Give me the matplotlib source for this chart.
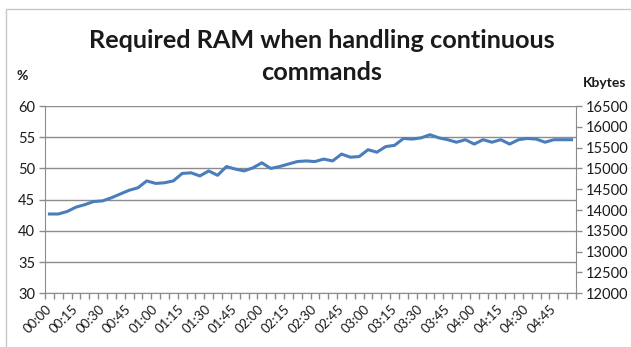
import matplotlib.pyplot as plt
from matplotlib.patches import Rectangle
from matplotlib.ticker import MultipleLocator

# time of day, every 5 minutes from 00:00 to 04:55
times = [f"{m // 60:02d}:{m % 60:02d}" for m in range(0, 300, 5)]

# required RAM in percent
ram_pct = [
    42.7, 42.7, 43.1, 43.8, 44.2, 44.7, 44.8, 45.3, 45.9, 46.5,
    46.9, 48.0, 47.6, 47.7, 48.0, 49.2, 49.3, 48.8, 49.6, 48.9,
    50.3, 49.9, 49.6, 50.1, 50.9, 50.0, 50.3, 50.7, 51.1, 51.2,
    51.1, 51.5, 51.2, 52.3, 51.8, 51.9, 53.0, 52.6, 53.5, 53.7,
    54.8, 54.7, 54.9, 55.4, 54.9, 54.6, 54.2, 54.6, 53.9, 54.6,
    54.2, 54.6, 53.9, 54.6, 54.8, 54.7, 54.2, 54.6, 54.6, 54.6,
]

pct_ticks = [30, 35, 40, 45, 50, 55, 60]
kb_ticks = list(range(12000, 16501, 500))

plt.rcParams['font.family'] = ['Lato', 'DejaVu Sans']

fig = plt.figure(figsize=(6.31, 3.47), dpi=100)
ax = fig.add_axes([45 / 631, 1 - 293.3 / 347, 531 / 631, 187.3 / 347])

grid_col = '#8c8c8c'
text_col = '#1a1a1a'

# outer chart frame
fig.add_artist(Rectangle((6 / 631, -0.1), 1.0, 1 - 9 / 347 + 0.1,
                         transform=fig.transFigure, fill=False,
                         edgecolor='#c8c8c8', linewidth=1.0))

x = list(range(len(times)))
ax.plot(x, ram_pct, color='#4a7ebb', linewidth=2.2, solid_joinstyle='round', zorder=3)

ax.set_xlim(-0.5, len(times) - 0.5)
ax.set_ylim(30, 60)
ax.set_yticks(pct_ticks)
ax.yaxis.grid(True, color=grid_col, linewidth=1.0)
ax.set_axisbelow(True)

ax.set_xticks(x[::3])
ax.set_xticklabels(times[::3], rotation=45, ha='right', va='center',
                   rotation_mode='anchor', fontsize=9.5, color=text_col)
ax.xaxis.set_minor_locator(MultipleLocator(1, offset=0.5))
ax.tick_params(axis='x', which='major', length=0, pad=10)
ax.tick_params(axis='x', which='minor', length=4, width=1, color=grid_col)
ax.tick_params(axis='y', length=4, width=1, color=grid_col, labelsize=10.5,
               labelcolor=text_col, pad=3)

for side in ['left', 'bottom']:
    ax.spines[side].set_color(grid_col)
for side in ['top', 'right']:
    ax.spines[side].set_visible(False)

ax2 = ax.twinx()
ax2.set_ylim(12000, 16500)
ax2.set_yticks(kb_ticks)
ax2.tick_params(axis='y', length=4, width=1, color=grid_col, labelsize=10.5,
                labelcolor=text_col, pad=3)
for side in ['left', 'bottom', 'top']:
    ax2.spines[side].set_visible(False)
ax2.spines['right'].set_color(grid_col)

fig.text(322 / 631, 1 - 40 / 347, 'Required RAM when handling continuous',
         ha='center', va='center', fontsize=18.2, fontweight='bold', color=text_col)
fig.text(322 / 631, 1 - 72 / 347, 'commands',
         ha='center', va='center', fontsize=18.2, fontweight='bold', color=text_col)
fig.text(22 / 631, 1 - 76 / 347, '%', ha='center', va='center',
         fontsize=10, fontweight='bold', color=text_col)
fig.text(605 / 631, 1 - 83 / 347, 'Kbytes', ha='center', va='center',
         fontsize=10, fontweight='bold', color=text_col)

fig.savefig('out.png', dpi=100)
plt.close(fig)
